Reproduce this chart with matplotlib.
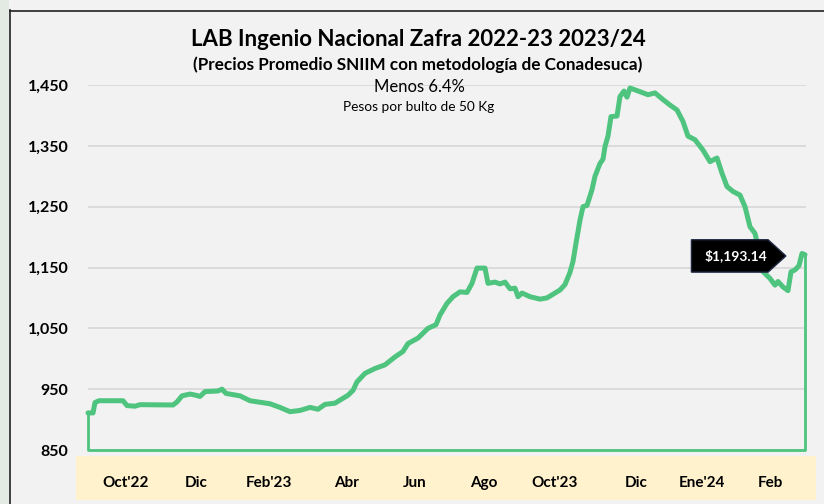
import matplotlib.pyplot as plt
from matplotlib.patches import Rectangle
from matplotlib.lines import Line2D
from matplotlib.path import Path

plt.rcParams["font.family"] = ["Lato", "DejaVu Sans"]

# indice de dia habil y precio (pesos por bulto de 50 kg)
dia = [0, 2.5, 3.5, 5.5, 17.5, 19.5, 23.5, 26, 42.5, 44.5, 47, 51, 54, 56, 58.5,
       65, 67, 69, 76, 81, 85, 91, 96, 101, 106, 111, 115, 118.5, 123.5, 127.5,
       130, 132.5, 134.5, 138.5, 143.5, 148.5, 153.5, 157.5, 160, 165, 170, 174,
       176, 179.5, 182.5, 186, 189.5, 192, 194.5, 198.5, 200, 203.5, 206, 208.5,
       211, 213.5, 215, 217, 221, 226, 229.5, 232, 236, 238.5, 241, 242.5, 244,
       246, 247.5, 249.5, 252, 253.5, 256, 257.5, 258.5, 260, 261.5, 264.5, 266,
       268, 269.5, 271, 276, 280, 283.5, 287.5, 291, 294.5, 297.5, 300, 303.5,
       307.5, 311, 314.5, 317, 319.5, 322.5, 326, 328.5, 331, 333.5, 335, 337,
       341, 343.5, 345, 347.5, 350, 351.5, 353.5, 355.5, 357, 358.5]
precio = [911, 911, 928, 931, 931, 923, 922, 924.5, 924, 929, 939, 942, 940, 938,
          946, 947, 950, 943, 939, 931, 929, 926, 920, 913, 915, 920, 917, 925,
          927, 935, 940, 948, 962, 976, 984, 990, 1003, 1012, 1025, 1034, 1050,
          1056, 1072, 1091, 1102, 1110, 1109, 1124, 1149, 1149, 1124, 1126, 1123,
          1126, 1115, 1116, 1102, 1108, 1102, 1098, 1100, 1105, 1113, 1122, 1142,
          1160, 1190, 1228, 1250, 1252, 1278, 1300, 1321, 1328, 1349, 1366, 1398,
          1399, 1431, 1440, 1430, 1445, 1439, 1434, 1437, 1426, 1417, 1409, 1390,
          1366, 1360, 1343, 1324, 1330, 1305, 1283, 1275, 1269, 1250, 1217, 1206,
          1185, 1145, 1132, 1121, 1127, 1118, 1112, 1143, 1146, 1153, 1173, 1171]

tick_pos = [19, 54, 90.5, 129.5, 163.5, 198, 233.5, 274, 307, 341]
tick_lab = ["Oct'22", "Dic", "Feb'23", "Abr", "Jun", "Ago", "Oct'23", "Dic",
            "Ene'24", "Feb"]
y_ticks = [850, 950, 1050, 1150, 1250, 1350, 1450]

base = 850
verde = "#4ec47f"
fondo = "#f2f2f2"

fig = plt.figure(figsize=(8.24, 5.04), dpi=100, facecolor=fondo)

# franja izquierda y lineas de marco
fig.patches.append(Rectangle((0, 0), 9 / 824, 1, transform=fig.transFigure,
                             facecolor="#e3e9e3", edgecolor="none", zorder=-2))
fig.lines.append(Line2D([9.5 / 824, 9.5 / 824], [0, 1 - 10 / 504],
                        transform=fig.transFigure, color="#222222", lw=1.2,
                        zorder=-1))
fig.lines.append(Line2D([9.5 / 824, 1], [1 - 10.5 / 504, 1 - 10.5 / 504],
                        transform=fig.transFigure, color="#222222", lw=1.2,
                        zorder=-1))

# banda amarilla de etiquetas
fig.patches.append(Rectangle((76 / 824, 4 / 504), 740 / 824, 44 / 504,
                             transform=fig.transFigure, facecolor="#fff2cc",
                             edgecolor="none", zorder=-2))

ax = fig.add_axes([88 / 824, 54 / 504, 718 / 824, 365 / 504])
ax.set_facecolor(fondo)

ax.plot(dia, precio, color=verde, lw=3.6, solid_joinstyle="round",
        solid_capstyle="round", clip_on=False, zorder=3)
ax.plot([dia[-1], dia[-1], dia[0], dia[0]], [precio[-1], base, base, precio[0]],
        color=verde, lw=2, clip_on=False, zorder=3)

ax.set_xlim(0, 359)
ax.set_ylim(850, 1450)
ax.set_yticks(y_ticks)
ax.set_yticklabels([f"{v:,}" for v in y_ticks], fontweight="bold", fontsize=11.5)
ax.set_xticks(tick_pos)
ax.set_xticklabels(tick_lab, fontweight="bold", fontsize=11)
ax.tick_params(axis="y", length=0, pad=14)
ax.tick_params(axis="x", length=0, pad=19)
ax.grid(axis="y", color="#d9d9d9", lw=1.3)
ax.set_axisbelow(True)
for s in ax.spines.values():
    s.set_visible(False)


def pentagono(x0, y0, width, height, mutation_size):
    pad_izq = 0.95 * mutation_size
    pad_der = 0.05 * mutation_size
    pad_v = 0.7 * mutation_size
    x0 -= pad_izq
    y0 -= pad_v
    w = width + pad_izq + pad_der
    h = height + 2 * pad_v
    punta = 0.55 * h
    verts = [(x0, y0), (x0 + w, y0), (x0 + w + punta, y0 + h / 2),
             (x0 + w, y0 + h), (x0, y0 + h), (x0, y0)]
    codes = [Path.MOVETO] + [Path.LINETO] * 4 + [Path.CLOSEPOLY]
    return Path(verts, codes)


ax.text(324, 1169, "$1,193.14", color="white", fontweight="bold",
        fontsize=10, ha="center", va="center", zorder=5,
        bbox=dict(boxstyle=pentagono, facecolor="black", edgecolor="#1f2a44",
                  lw=1))

fig.text(418 / 824, 1 - 40 / 504, "LAB Ingenio Nacional Zafra 2022-23 2023/24",
         ha="center", va="center", fontsize=16, fontweight="bold")
fig.text(418 / 824, 1 - 65 / 504,
         "(Precios Promedio SNIIM con metodología de Conadesuca)",
         ha="center", va="center", fontsize=12.3, fontweight="bold")
fig.text(419 / 824, 1 - 87 / 504, "Menos 6.4%", ha="center", va="center",
         fontsize=12)
fig.text(419 / 824, 1 - 107 / 504, "Pesos por bulto de 50 Kg", ha="center",
         va="center", fontsize=9.8)

fig.savefig("out.png", dpi=100, facecolor=fondo)
